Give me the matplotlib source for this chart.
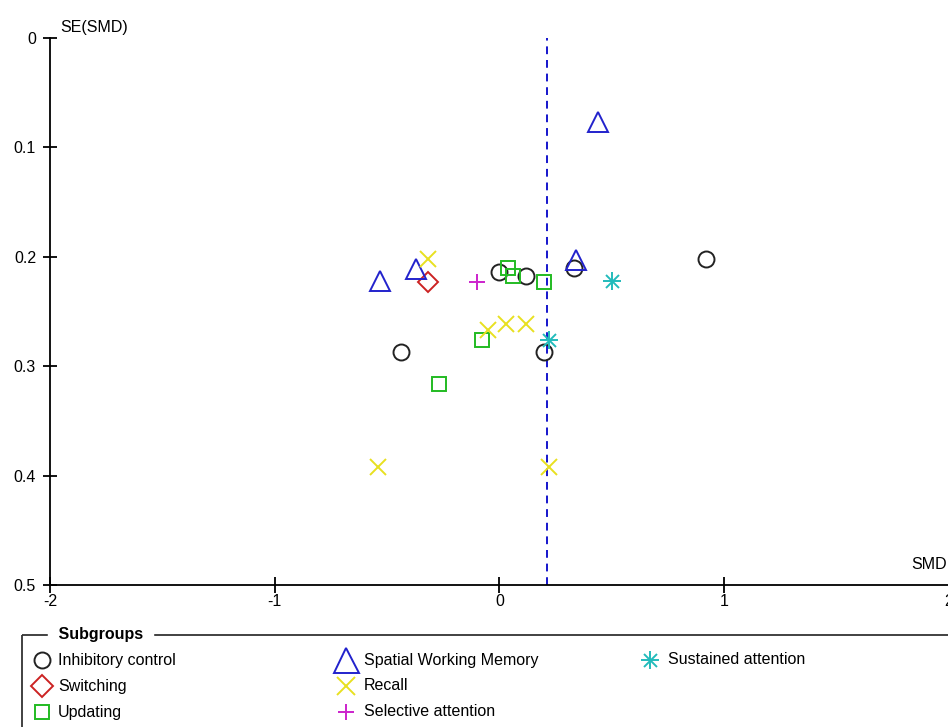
import matplotlib
matplotlib.use("Agg")
import matplotlib.pyplot as plt
from matplotlib.patches import Rectangle

plt.rcParams['font.family'] = ['Liberation Sans', 'DejaVu Sans']

# ---- data ----
groups = ["Inhibitory control", "Switching", "Updating",
          "Spatial Working Memory", "Recall", "Selective attention",
          "Sustained attention"]

inhib_smd = [-0.44, 0.00, 0.12, 0.33, 0.20, 0.92]
inhib_se = [0.287, 0.214, 0.218, 0.210, 0.287, 0.202]

switch_smd = [-0.32]
switch_se = [0.223]

update_smd = [0.04, 0.06, 0.20, -0.08, -0.27]
update_se = [0.210, 0.218, 0.223, 0.276, 0.316]

swm_smd = [0.44, 0.34, -0.37, -0.53]
swm_se = [0.077, 0.203, 0.211, 0.222]

recall_smd = [-0.32, -0.05, 0.03, 0.12, -0.54, 0.22]
recall_se = [0.202, 0.267, 0.261, 0.261, 0.392, 0.392]

selective_smd = [-0.10]
selective_se = [0.223]

sustained_smd = [0.50, 0.22]
sustained_se = [0.222, 0.276]

pooled_smd = 0.213

xticks = [-2, -1, 0, 1, 2]
yticks = [0, 0.1, 0.2, 0.3, 0.4, 0.5]

# ---- styles ----
styles = {
    "Inhibitory control": dict(marker='o', color='#222222', ms=11.5, lms=11.5),
    "Switching": dict(marker='D', color='#cc2222', ms=10.5, lms=11),
    "Updating": dict(marker='s', color='#22bb22', ms=10, lms=10.5),
    "Spatial Working Memory": dict(marker='^', color='#2222cc', ms=14, lms=18),
    "Recall": dict(marker='x', color='#e8e020', ms=12, lms=13),
    "Selective attention": dict(marker='+', color='#cc22cc', ms=12, lms=12),
    "Sustained attention": dict(marker='*', color='#22bbbb', ms=13, lms=13),
}
data = {
    "Inhibitory control": (inhib_smd, inhib_se),
    "Switching": (switch_smd, switch_se),
    "Updating": (update_smd, update_se),
    "Spatial Working Memory": (swm_smd, swm_se),
    "Recall": (recall_smd, recall_se),
    "Selective attention": (selective_smd, selective_se),
    "Sustained attention": (sustained_smd, sustained_se),
}

fig = plt.figure(figsize=(9.48, 7.27), dpi=100)
W, H = 948, 727
ax = fig.add_axes([50 / W, 1 - 585 / H, 899 / W, 547 / H])


def draw(axis, name, x, y, legend=False):
    st = styles[name]
    m = st['marker']
    size = st['lms'] if legend else st['ms']
    if m == '*':
        axis.plot(x, y, linestyle='none', marker='+', ms=size,
                  color=st['color'], mew=1.4, clip_on=False)
        axis.plot(x, y, linestyle='none', marker='x', ms=size * 0.72,
                  color=st['color'], mew=1.4, clip_on=False)
    elif m in ('x', '+'):
        axis.plot(x, y, linestyle='none', marker=m, ms=size,
                  color=st['color'], mew=1.4, clip_on=False)
    else:
        axis.plot(x, y, linestyle='none', marker=m, ms=size,
                  mfc='none', mec=st['color'], mew=1.4, clip_on=False)


ax.axvline(pooled_smd, color='#1515cc', linestyle=(0, (4, 3)), lw=1.4, zorder=1)
for g in groups:
    xs, ys = data[g]
    draw(ax, g, xs, ys)

ax.set_xlim(-2, 2)
ax.set_ylim(0.5, 0)
ax.set_xticks(xticks)
ax.set_xticklabels([str(t) for t in xticks])
ax.set_yticks(yticks)
ax.set_yticklabels(["0", "0.1", "0.2", "0.3", "0.4", "0.5"])
for s in ['top', 'right']:
    ax.spines[s].set_visible(False)
for s in ['left', 'bottom']:
    ax.spines[s].set_linewidth(1.3)
ax.tick_params(direction='inout', length=11, width=1.3, labelsize=11.5,
               pad=1)
ax.tick_params(axis='y', length=10, pad=5)
ax.text(-1.955, -0.003, "SE(SMD)", fontsize=11.5, ha='left', va='bottom')
ax.text(1.99, 0.488, "SMD", fontsize=11.5, ha='right', va='bottom')

# ---- legend ----
lax = fig.add_axes([0, 0, 1, 1])
lax.set_xlim(0, W)
lax.set_ylim(H, 0)
lax.axis('off')
lax.add_patch(Rectangle((22, 635), 960, 120, fill=False, lw=1.3,
                        edgecolor='#333333', clip_on=False))
lax.text(54, 635, " Subgroups ", fontsize=11.5, fontweight='bold',
         ha='left', va='center', backgroundcolor='white')

cols = [(42, 58), (346, 364), (650, 668)]
rows = [660, 686, 712]
order = [("Inhibitory control", 0, 0), ("Switching", 0, 1), ("Updating", 0, 2),
         ("Spatial Working Memory", 1, 0), ("Recall", 1, 1),
         ("Selective attention", 1, 2), ("Sustained attention", 2, 0)]
for name, c, r in order:
    mx, tx = cols[c]
    draw(lax, name, [mx], [rows[r]], legend=True)
    lax.text(tx, rows[r], name, fontsize=11.5, ha='left', va='center')

fig.savefig("out.png", dpi=100)
